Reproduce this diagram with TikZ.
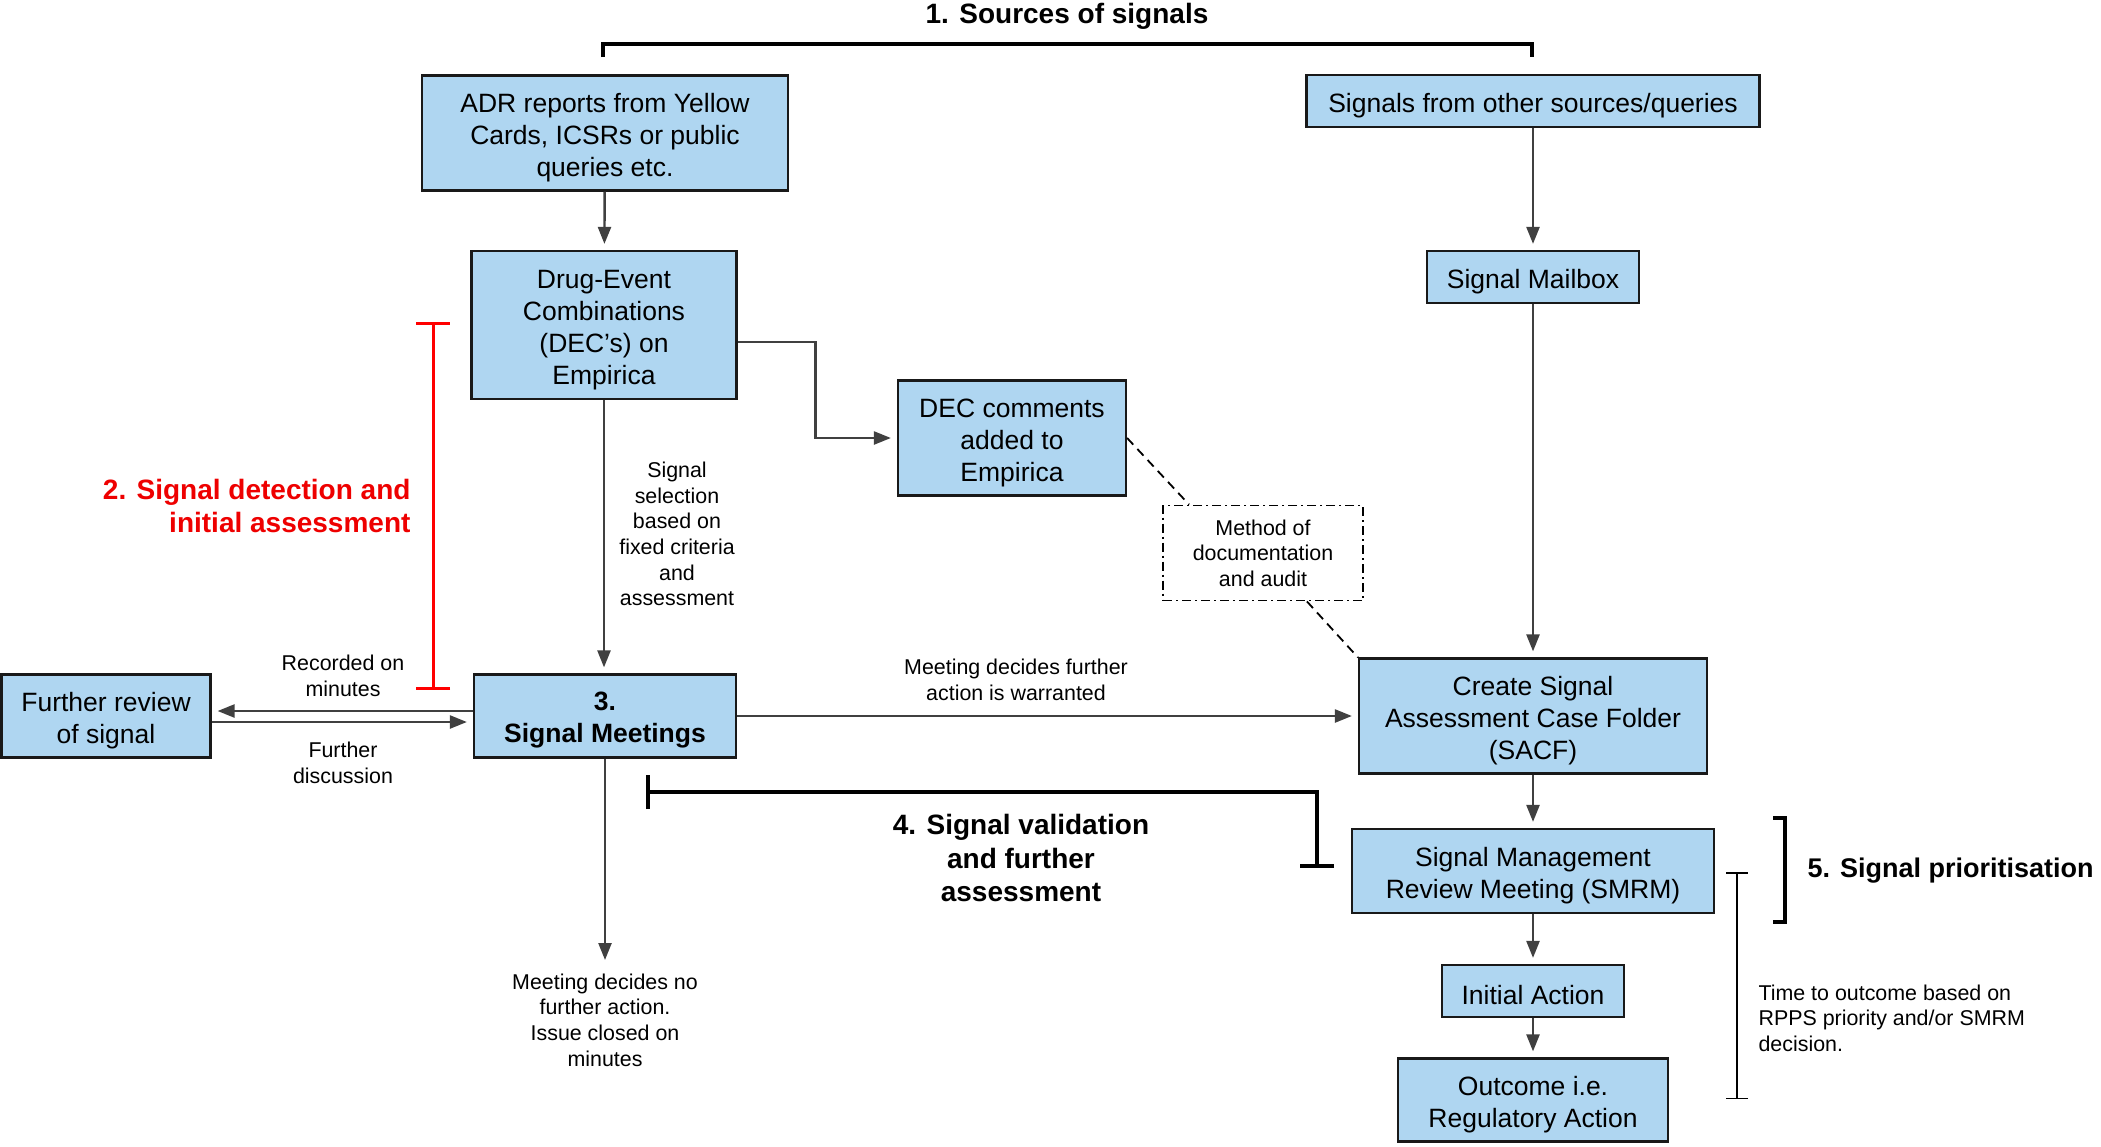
\documentclass[tikz,border=0pt]{standalone}
\usepackage{fontspec}
\setmainfont{Liberation Sans}
\usetikzlibrary{arrows.meta}
\usetikzlibrary{calc}
\usetikzlibrary{positioning}
\definecolor{boxblue}{RGB}{175, 214, 241}
\definecolor{flowgray}{RGB}{64, 64, 64}
\definecolor{signalred}{RGB}{238, 0, 0}
\newcommand{\boxfont}{\fontsize{26.5}{32}\selectfont}
\newcommand{\notefont}{\fontsize{21.4}{25.6}\selectfont}
\newcommand{\stagefont}{\fontsize{28}{33.5}\selectfont\bfseries}
\newcommand{\boxstrut}{\rule{0pt}{27.5pt}}

\begin{document}
\begin{tikzpicture}[x=1pt, y=-1pt,
        box/.style={draw=black!90, fill=boxblue, line width=2.2pt, inner sep=0pt, align=center, font=\boxfont},
        flow/.style={draw=flowgray, line width=2.4pt, -{Triangle[length=17pt, width=13pt]}, shorten >=6pt},
        note/.style={align=center, font=\notefont},
        stage/.style={align=center, font=\stagefont}]
            \useasboundingbox (0, 0) rectangle (2101, 1146);

            \node[box, minimum width=366pt, minimum height=115pt] (adr) at (605, 133) {\boxstrut ADR reports from Yellow\\Cards, ICSRs or public\\queries etc.};
            \node[box, minimum width=453pt, minimum height=52pt] (other) at (1533, 101) {\boxstrut Signals from other sources/queries};
            \node[box, minimum width=265pt, minimum height=148pt] (dec) at (604, 325) {\boxstrut Drug-Event\\Combinations\\(DEC’s) on\\Empirica};
            \node[box, minimum width=212pt, minimum height=52pt] (mailbox) at (1533, 277) {\boxstrut Signal Mailbox};
            \node[box, minimum width=228pt, minimum height=115pt] (comments) at (1012, 438) {\boxstrut DEC comments\\added to\\Empirica};
            \node[note, draw, line width=1.8pt, dash pattern=on 9pt off 4pt on 2pt off 4pt, minimum width=200pt, minimum height=95pt, inner sep=0pt] (method) at (1263, 553) {Method of\\documentation\\and audit};
            \node[box, minimum width=348pt, minimum height=115pt] (sacf) at (1533, 716) {\boxstrut Create Signal\\Assessment Case Folder\\(SACF)};
            \node[box, minimum width=209pt, minimum height=83pt] (review) at (106, 716) {\boxstrut Further review\\of signal};
            \node[box, minimum width=262pt, minimum height=83pt, font=\boxfont\bfseries] (meet) at (605, 716) {\boxstrut 3.\\Signal Meetings};
            \node[box, minimum width=362pt, minimum height=84pt] (smrm) at (1533, 871) {\boxstrut Signal Management\\Review Meeting (SMRM)};
            \node[box, minimum width=182pt, minimum height=52pt] (initial) at (1533, 991) {\boxstrut Initial Action};
            \node[box, minimum width=270pt, minimum height=83pt] (outcome) at (1533, 1100) {\boxstrut Outcome i.e.\\Regulatory Action};
            \coordinate (closed) at (605, 960);

            \draw[flow] (adr) -- (dec);
            \draw[flow] (other) -- (mailbox);
            \draw[flow] ([yshift=-17pt]dec.east) -- ++(78, 0) |- (comments);
            \draw[flow] (dec.south) -- (dec.south |- meet.north);
            \draw[flow] (mailbox) -- (sacf);
            \draw[flow] ([yshift=5pt]meet.west) -- ([yshift=5pt]review.east);
            \draw[flow] ([yshift=-6pt]review.east) -- ([yshift=-6pt]meet.west);
            \draw[flow] (meet) -- (sacf);
            \draw[flow, shorten >=0pt] (meet) -- (closed);
            \draw[flow] (sacf) -- (smrm);
            \draw[flow] (smrm) -- (initial);
            \draw[flow] (initial) -- (outcome);
            \draw[line width=1.8pt, dash pattern=on 9pt off 6pt] (comments.east) -- ([xshift=27pt]method.north west);
            \draw[line width=1.8pt, dash pattern=on 9pt off 6pt] ([xshift=-57pt]method.south east) -- (sacf.north west);

            \node[note] (selection) at (677, 534) {Signal\\selection\\based on\\fixed criteria\\and\\assessment};
            \node[note] (recorded) at (343, 676) {Recorded on\\minutes};
            \node[note] (discussion) at (343, 763) {Further\\discussion};
            \node[note] (warranted) at (1016, 680) {Meeting decides further\\action is warranted};
            \node[note] (nofurther) at (605, 1020) {Meeting decides no\\further action.\\Issue closed on\\minutes};
            \node[note, anchor=west, align=left] (timing) at (1755, 1018) {Time to outcome based on\\RPPS priority and/or SMRM\\decision.};

            \node[stage] (sources) at (1067, 16) {1. Sources of signals};
            \node[stage, text=signalred, anchor=east, align=right] (detection) at (414, 506) {2. Signal detection and\\initial assessment};
            \node[stage] (validation) at (1021, 858) {4. Signal validation\\and further\\assessment};
            \node[stage, anchor=west, font=\fontsize{27}{32}\selectfont\bfseries] (prioritisation) at (1804, 871) {5. Signal prioritisation};

            \draw[line width=4pt] (603, 57) -- (603, 44) -- (1532, 44) -- (1532, 57);
            \draw[red, line width=3pt, {Bar[width=34pt]}-{Bar[width=34pt]}] (433, 322) -- (433, 690);
            \draw[line width=4pt, {Bar[width=34pt]}-{Bar[width=34pt]}] (646, 792) -- (1317, 792) -- (1317, 868);
            \draw[line width=4pt] (1773, 818) -- (1785, 818) -- (1785, 922) -- (1773, 922);
            \draw[line width=1.5pt, {Bar[width=22pt]}-{Bar[width=22pt]}] (1737, 872) -- (1737, 1099);
        \end{tikzpicture}
\end{document}
